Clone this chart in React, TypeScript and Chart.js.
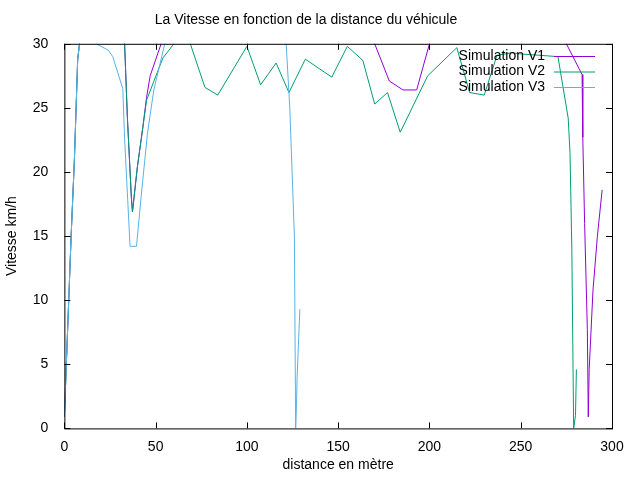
import React, { useEffect, useRef } from 'react';
import { Chart, registerables } from 'chart.js';

Chart.register(...registerables);

// [distance, vitesse] ; values above 30 are clipped by the axis like in the original
const simV1: [number, number][] = [
  [0, 0.9], [1.6, 7], [3.7, 15], [5.5, 21], [7.3, 28.8], [8.3, 30], [9, 33], [32, 33], [33, 30],
  [34.5, 24.3], [36.7, 18], [37.3, 16.9], [40, 20.4], [43, 23.5], [45, 25.8], [47, 27.5], [53, 30],
  [56, 33], [169, 33], [170, 30], [178, 27.1], [185.5, 26.4], [193, 26.4], [200, 30], [202, 33],
  [274, 33], [275, 30], [283.6, 27.6], [284, 22.7], [285, 16], [286.5, 7.7], [287, 0.9],
  [287.5, 4.6], [289.6, 10.8], [292, 15], [294.6, 18.6],
];
const simV2: [number, number][] = [
  [0, 0.9], [1.6, 7], [3.7, 15], [5.5, 21], [7.3, 28.8], [8.3, 30], [9, 33], [32, 33], [33, 30],
  [34.5, 24.3], [36.7, 18], [37.3, 16.9], [40, 20.4], [43, 23.5], [45, 25.6], [54, 28.9], [60, 30],
  [61, 33], [68, 33], [69, 30], [77, 26.6], [84, 26.0], [100, 29.8], [107.5, 26.8], [116, 28.5],
  [123, 26.2], [132, 28.8], [146.5, 27.4], [155, 29.8], [163.5, 28.7], [170, 25.3], [177, 26.2],
  [184, 23.1], [199, 27.5], [215, 29.7], [222, 26.2], [230, 26.0], [237, 29.1], [245, 29.3],
  [250.7, 29.2], [270.4, 29.0], [276, 24.2], [277, 21.5], [278, 14], [279, 0], [280, 1], [280.5, 4.6],
];
const simV3: [number, number][] = [
  [0, 0.9], [1.6, 7], [3.7, 15], [5.5, 21], [7.3, 28.8], [8.3, 30], [9, 33], [16.5, 33], [17.5, 30],
  [24, 29.5], [26.5, 29], [32, 26.5], [33, 22.6], [35.7, 15], [36, 14.2], [39.5, 14.2], [42, 18],
  [45.5, 23], [49, 26.4], [55, 30], [56, 33], [120.5, 33], [121.5, 30], [123.5, 25], [126, 15],
  [126.7, 0], [127, 1], [127.5, 4], [129, 9.3],
];
const seriesNames = ['Simulation V1', 'Simulation V2', 'Simulation V3'];
const seriesColors = ['#9400d3', '#009e73', '#56b4e9'];
const xTicks = [0, 50, 100, 150, 200, 250, 300];
const yTicks = [0, 5, 10, 15, 20, 25, 30];

const FONT = '"Liberation Sans", Arial, sans-serif';

const gnuplotFrame = {
  id: 'gnuplotFrame',
  afterDraw(chart: Chart) {
    const { ctx, chartArea: a, scales } = chart;
    ctx.save();
    ctx.strokeStyle = '#000';
    ctx.lineWidth = 1;
    ctx.strokeRect(a.left + 0.5, a.top + 0.5, a.right - a.left, a.bottom - a.top);
    ctx.beginPath();
    xTicks.forEach((v) => {
      const px = Math.round(scales.x.getPixelForValue(v)) + 0.5;
      ctx.moveTo(px, a.bottom); ctx.lineTo(px, a.bottom - 6);
      ctx.moveTo(px, a.top); ctx.lineTo(px, a.top + 6);
    });
    yTicks.forEach((v) => {
      const py = Math.round(scales.y.getPixelForValue(v)) + 0.5;
      ctx.moveTo(a.left, py); ctx.lineTo(a.left + 6, py);
      ctx.moveTo(a.right, py); ctx.lineTo(a.right - 6, py);
    });
    ctx.stroke();
    // legend, gnuplot style: text right aligned, sample line after it
    ctx.font = `14px ${FONT}`;
    ctx.textAlign = 'right';
    ctx.textBaseline = 'middle';
    seriesNames.forEach((name, i) => {
      const y = 56 + i * 15.5;
      ctx.fillStyle = '#000';
      ctx.fillText(name, 545, y);
      ctx.strokeStyle = seriesColors[i];
      ctx.beginPath();
      ctx.moveTo(554, y + 0.5); ctx.lineTo(595, y + 0.5);
      ctx.stroke();
    });
    ctx.restore();
  },
};

const App: React.FC = () => {
  const canvasRef = useRef<HTMLCanvasElement>(null);

  useEffect(() => {
    document.body.style.margin = '0';
    if (!canvasRef.current) return;
    const data = [simV1, simV2, simV3];
    const chart = new Chart(canvasRef.current, {
      type: 'line',
      data: {
        datasets: data.map((pts, i) => ({
          label: seriesNames[i],
          data: pts.map(([x, y]) => ({ x, y })),
          borderColor: seriesColors[i],
          borderWidth: 1,
          pointRadius: 0,
          tension: 0,
          fill: false,
          order: 2 - i, // V3 drawn on top, as gnuplot does
        })),
      },
      options: {
        animation: false,
        responsive: false,
        layout: { padding: { top: 0, right: 28, left: 0, bottom: 4 } },
        plugins: {
          legend: { display: false },
          tooltip: { enabled: false },
          title: {
            display: true,
            text: 'La Vitesse en fonction de la distance du véhicule',
            color: '#000',
            font: { family: FONT, size: 14, weight: 'normal' },
            padding: { top: 12, bottom: 15 },
          },
        },
        scales: {
          x: {
            type: 'linear',
            min: 0,
            max: 300,
            grid: { display: false },
            border: { display: false },
            afterBuildTicks: (s) => { s.ticks = xTicks.map((value) => ({ value })); },
            ticks: { color: '#000', font: { family: FONT, size: 14 }, padding: 2, maxRotation: 0 },
            title: { display: true, text: 'distance en mètre', color: '#000', font: { family: FONT, size: 14 }, padding: { top: 0, bottom: 2 } },
          },
          y: {
            min: 0,
            max: 30,
            grid: { display: false },
            border: { display: false },
            afterBuildTicks: (s) => { s.ticks = yTicks.map((value) => ({ value })); },
            ticks: { color: '#000', font: { family: FONT, size: 14 }, padding: 8 },
            title: { display: true, text: 'Vitesse km/h', color: '#000', font: { family: FONT, size: 14 }, padding: { bottom: 4 } },
          },
        },
      },
      plugins: [gnuplotFrame],
    });
    return () => chart.destroy();
  }, []);

  return (
    <div style={{ width: 640, height: 480, background: '#fff' }}>
      <canvas ref={canvasRef} width={640} height={480} />
    </div>
  );
};

export default App;
